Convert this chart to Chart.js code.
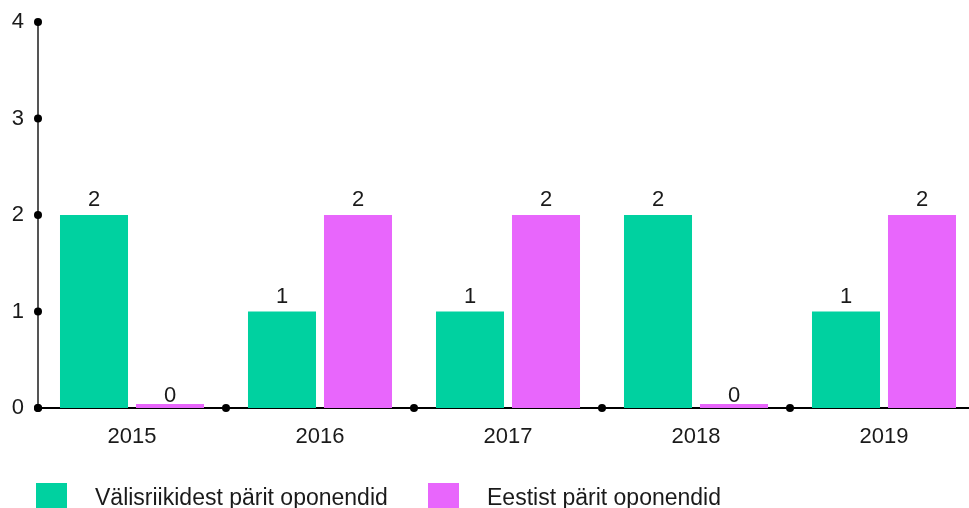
<!DOCTYPE html>
<html lang="et">
<head>
  <meta charset="UTF-8">
  <title>Oponendid</title>
  <script src="https://cdn.jsdelivr.net/npm/chart.js"></script>
  <style>
    * { margin: 0; padding: 0; box-sizing: border-box; }
    html, body { width: 969px; height: 508px; overflow: hidden; background: #fff; }
    body { font-family: 'Liberation Sans', Arial, sans-serif; color: #1a1a1a; position: relative; }
    #chart { position: absolute; left: 0; top: 0; }
    .legend { position: absolute; top: 483px; left: 0; width: 969px; height: 40px; }
    .legend .box { position: absolute; top: 0; width: 31px; height: 31px; }
    .legend .txt { position: absolute; top: 1px; font-size: 23px; line-height: 26px; white-space: nowrap; }
  </style>
</head>
<body>
  <canvas id="chart" width="980" height="508"></canvas>
  <div class="legend">
    <div class="box" style="left:36px;background:#00d1a0"></div>
    <div class="txt" style="left:95px">Välisriikidest pärit oponendid</div>
    <div class="box" style="left:428px;background:#e866fc"></div>
    <div class="txt" style="left:487px">Eestist pärit oponendid</div>
  </div>

<script>
  const years = ['2015', '2016', '2017', '2018', '2019'];
  const foreign = [2, 1, 1, 2, 1];
  const domestic = [0, 2, 2, 0, 2];
  const yTicks = [0, 1, 2, 3, 4];

  const FONT = "'Liberation Sans', Arial, sans-serif";

  // value labels above each bar
  const valueLabels = {
    id: 'valueLabels',
    afterDatasetsDraw(chart) {
      const ctx = chart.ctx;
      const zero = chart.scales.y.getPixelForValue(0);
      ctx.save();
      ctx.font = '22px ' + FONT;
      ctx.fillStyle = '#1a1a1a';
      ctx.textAlign = 'center';
      ctx.textBaseline = 'alphabetic';
      chart.data.datasets.forEach((ds, i) => {
        chart.getDatasetMeta(i).data.forEach((bar, j) => {
          const y = ds.data[j] === 0 ? zero - 6 : bar.y - 9;
          ctx.fillText(String(ds.data[j]), bar.x, y);
        });
      });
      ctx.restore();
    }
  };

  // black dots on the axes
  const axisDots = {
    id: 'axisDots',
    afterDraw(chart) {
      const ctx = chart.ctx;
      const xs = chart.scales.x, ys = chart.scales.y;
      const left = chart.chartArea.left, bottom = chart.chartArea.bottom;
      ctx.save();
      ctx.fillStyle = '#000';
      yTicks.forEach(v => {
        ctx.beginPath();
        ctx.arc(left, ys.getPixelForValue(v), 4, 0, Math.PI * 2);
        ctx.fill();
      });
      const step = xs.getPixelForValue(1) - xs.getPixelForValue(0);
      years.forEach((y, i) => {
        ctx.beginPath();
        ctx.arc(xs.getPixelForValue(i) - step / 2, bottom, 4, 0, Math.PI * 2);
        ctx.fill();
      });
      ctx.restore();
    }
  };

  new Chart(document.getElementById('chart'), {
    type: 'bar',
    data: {
      labels: years,
      datasets: [
        { label: 'Välisriikidest pärit oponendid', data: foreign, backgroundColor: '#00d1a0' },
        { label: 'Eestist pärit oponendid', data: domestic, backgroundColor: '#e866fc', minBarLength: 4 }
      ]
    },
    options: {
      responsive: false,
      animation: false,
      categoryPercentage: 0.8085,
      barPercentage: 0.895,
      layout: { padding: { top: 22, left: 0, right: 2, bottom: 0 } },
      plugins: { legend: { display: false }, tooltip: { enabled: false } },
      scales: {
        x: {
          grid: { display: false, drawTicks: false },
          border: { color: '#000', width: 2 },
          ticks: { color: '#1a1a1a', font: { family: FONT, size: 22 }, padding: 16 },
          afterFit: s => { s.height = 100; s.paddingLeft = 0; s.paddingRight = 0; }
        },
        y: {
          min: 0, max: 4,
          grid: { display: false, drawTicks: false },
          border: { color: '#555', width: 2 },
          ticks: { stepSize: 1, color: '#1a1a1a', font: { family: FONT, size: 22 }, padding: 14 },
          afterFit: s => { s.width = 38; s.paddingTop = 0; s.paddingBottom = 0; }
        }
      }
    },
    plugins: [valueLabels, axisDots]
  });
</script>
</body>
</html>
